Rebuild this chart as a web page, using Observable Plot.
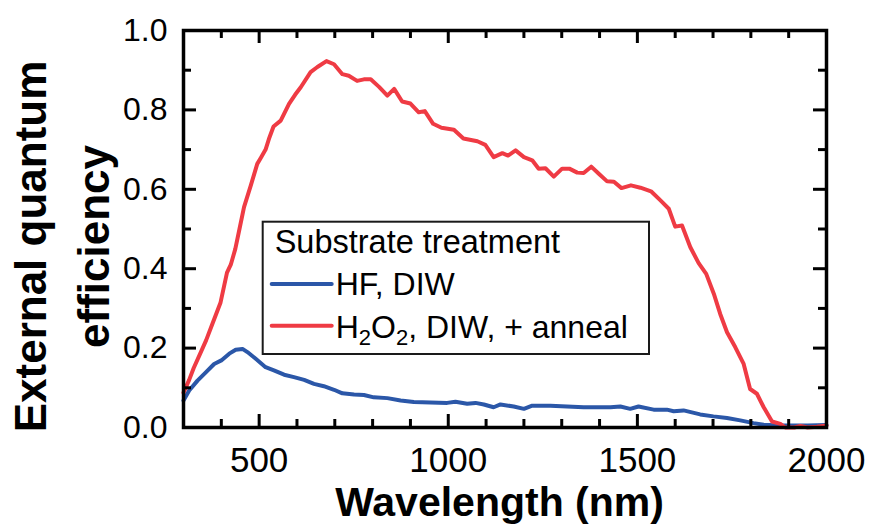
<!DOCTYPE html>
<html>
<head>
<meta charset="utf-8">
<script src="https://cdn.jsdelivr.net/npm/d3@7"></script>
<script src="https://cdn.jsdelivr.net/npm/@observablehq/plot@0.6"></script>
<style>
  body { margin: 0; background: #fff; }
  #chart { width: 870px; height: 525px; }
</style>
</head>
<body>
<div id="chart"></div>
<script>
// ---- Data ----
const wavelengthRed = [300, 315, 327, 345, 360, 376, 398, 415, 425, 437, 448, 460, 478, 495, 505, 517, 527, 538, 557, 579, 595, 610, 636, 654, 678, 698, 720, 737, 759, 777, 795, 817, 839, 857, 878, 900, 922, 938, 960, 982, 1015, 1040, 1077, 1098, 1120, 1143, 1158, 1178, 1200, 1222, 1239, 1257, 1279, 1301, 1320, 1341, 1358, 1378, 1398, 1420, 1438, 1458, 1483, 1508, 1536, 1561, 1583, 1600, 1618, 1640, 1662, 1682, 1702, 1719, 1737, 1759, 1781, 1798, 1816, 1834, 1856, 1878, 1891, 1915, 1931, 1950, 1975, 2000];
const eqeRed = [0.088, 0.12, 0.15, 0.188, 0.22, 0.26, 0.315, 0.39, 0.41, 0.45, 0.50, 0.555, 0.61, 0.664, 0.68, 0.70, 0.73, 0.758, 0.773, 0.815, 0.838, 0.857, 0.895, 0.908, 0.923, 0.915, 0.890, 0.886, 0.873, 0.877, 0.877, 0.858, 0.836, 0.853, 0.821, 0.816, 0.794, 0.797, 0.765, 0.755, 0.750, 0.728, 0.721, 0.712, 0.681, 0.691, 0.685, 0.698, 0.681, 0.673, 0.652, 0.653, 0.632, 0.652, 0.652, 0.642, 0.641, 0.657, 0.639, 0.620, 0.619, 0.603, 0.610, 0.604, 0.595, 0.572, 0.551, 0.506, 0.509, 0.454, 0.414, 0.387, 0.337, 0.286, 0.240, 0.202, 0.160, 0.097, 0.085, 0.051, 0.015, 0.009, 0.0, 0.0, 0.004, 0.0, 0.002, 0.005];

const wavelengthBlue = [300, 315, 337, 359, 381, 400, 421, 438, 456, 469, 491, 517, 539, 566, 592, 619, 645, 671, 698, 720, 751, 777, 803, 839, 874, 909, 953, 997, 1019, 1050, 1072, 1094, 1120, 1138, 1173, 1200, 1222, 1270, 1314, 1358, 1393, 1429, 1455, 1481, 1503, 1543, 1578, 1596, 1622, 1666, 1701, 1737, 1772, 1807, 1834, 1878, 1950, 2000];
const eqeBlue = [0.068, 0.093, 0.118, 0.139, 0.160, 0.169, 0.186, 0.196, 0.198, 0.190, 0.173, 0.152, 0.144, 0.133, 0.127, 0.120, 0.110, 0.104, 0.095, 0.086, 0.083, 0.082, 0.076, 0.074, 0.068, 0.064, 0.063, 0.062, 0.065, 0.060, 0.062, 0.058, 0.051, 0.058, 0.053, 0.047, 0.055, 0.055, 0.053, 0.051, 0.051, 0.051, 0.053, 0.047, 0.053, 0.045, 0.045, 0.041, 0.043, 0.033, 0.028, 0.024, 0.018, 0.011, 0.007, 0.005, 0.005, 0.006];

const seriesNames = ["HF, DIW", "H2O2, DIW, + anneal"];
const seriesColors = ["#2b57a8", "#ef3b44"];
const legendTitle = "Substrate treatment";

const xTickLabels = [500, 1000, 1500, 2000];
const xMinorTicks = [400, 600, 700, 800, 900, 1100, 1200, 1300, 1400, 1600, 1700, 1800, 1900];
const yTickLabels = [0, 0.2, 0.4, 0.6, 0.8, 1.0];
const yMinorTicks = [0.1, 0.3, 0.5, 0.7, 0.9];
const xTitle = "Wavelength (nm)";
const yTitleLines = ["External quantum", "efficiency"];

// ---- Tables built from the arrays ----
const blueRows = wavelengthBlue.map((w, i) => ({wl: w, v: eqeBlue[i]}));
const redRows = wavelengthRed.map((w, i) => ({wl: w, v: eqeRed[i]}));

const W = 870, H = 525;
const mL = 183, mR = 44, mT = 30, mB = 98;
const pw = W - mL - mR, ph = H - mT - mB;
const majorLen = 13, minorLen = 8;
const FONT = "'Liberation Sans', Arial, Helvetica, sans-serif";

const tickStyle = {stroke: "black", strokeWidth: 3, strokeLinecap: "butt"};

const svg = Plot.plot({
  width: W, height: H,
  marginLeft: mL, marginRight: mR, marginTop: mT, marginBottom: mB,
  x: {domain: [300, 2000], axis: null},
  y: {domain: [0, 1], axis: null},
  style: {fontFamily: FONT, color: "black", background: "white", overflow: "visible"},
  marks: [
    Plot.line(blueRows, {x: "wl", y: "v", stroke: seriesColors[0], strokeWidth: 4, strokeLinejoin: "round", strokeLinecap: "round"}),
    Plot.line(redRows, {x: "wl", y: "v", stroke: seriesColors[1], strokeWidth: 4, strokeLinejoin: "round", strokeLinecap: "round"}),
    // inward ticks, bottom & top
    Plot.tickX(xTickLabels, {x: d => d, insetTop: ph - majorLen, ...tickStyle}),
    Plot.tickX(xMinorTicks, {x: d => d, insetTop: ph - minorLen, ...tickStyle}),
    Plot.tickX(xTickLabels, {x: d => d, insetBottom: ph - majorLen, ...tickStyle}),
    Plot.tickX(xMinorTicks, {x: d => d, insetBottom: ph - minorLen, ...tickStyle}),
    // inward ticks, left & right
    Plot.tickY(yTickLabels, {y: d => d, insetRight: pw - majorLen, ...tickStyle}),
    Plot.tickY(yMinorTicks, {y: d => d, insetRight: pw - minorLen, ...tickStyle}),
    Plot.tickY(yTickLabels, {y: d => d, insetLeft: pw - majorLen, ...tickStyle}),
    Plot.tickY(yMinorTicks, {y: d => d, insetLeft: pw - minorLen, ...tickStyle}),
    Plot.frame({stroke: "black", strokeWidth: 3.5}),
    // tick labels
    Plot.text(xTickLabels, {x: d => d, frameAnchor: "bottom", lineAnchor: "middle", textAnchor: "middle", dy: 33, text: d => String(d), fontSize: 35, fill: "black"}),
    Plot.text(yTickLabels, {y: d => d, frameAnchor: "left", lineAnchor: "middle", textAnchor: "end", dx: -16, text: d => d.toFixed(1), fontSize: 32, fill: "black"}),
    // axis titles
    Plot.text([xTitle], {frameAnchor: "bottom", lineAnchor: "middle", textAnchor: "middle", dy: 75, dx: -5.5, text: d => d, fontSize: 41, fontWeight: "bold", fill: "black"}),
    Plot.text([yTitleLines.join("\n")], {frameAnchor: "left", lineAnchor: "middle", textAnchor: "middle", dx: -126, dy: 17.5, rotate: -90, text: d => d, fontSize: 44, fontWeight: "bold", lineHeight: 1.43, fill: "black"})
  ]
});

// ---- Legend (inside the plot area) ----
const g = d3.select(svg).append("g").attr("font-family", FONT).attr("fill", "black").attr("text-anchor", "start");
const lx = 262.7, ly = 221.7, lw = 386.3, lh = 132.3;
g.append("rect").attr("x", lx).attr("y", ly).attr("width", lw).attr("height", lh)
  .attr("fill", "white").attr("stroke", "#1a1a1a").attr("stroke-width", 2);
g.append("text").attr("x", lx + 12).attr("y", ly + 31.6).attr("font-size", 32.5).text(legendTitle);
const rowLineY = [62.3, 104];
const rowTextY = [73.3, 116.5];
seriesNames.forEach((name, i) => {
  g.append("line").attr("x1", lx + 9).attr("x2", lx + 69)
    .attr("y1", ly + rowLineY[i]).attr("y2", ly + rowLineY[i])
    .attr("stroke", seriesColors[i]).attr("stroke-width", 4).attr("stroke-linecap", "round");
  const t = g.append("text").attr("x", lx + 73).attr("y", ly + rowTextY[i]).attr("font-size", 32);
  // render digit "2" following H or O as subscript, each piece at an absolute baseline
  const parts = name.split(/(?<=[HO])(2)/).filter(p => p);
  const base = ly + rowTextY[i];
  parts.forEach(p => {
    if (p === "2") {
      t.append("tspan").attr("font-size", 22).attr("y", base + 7).text("2");
    } else {
      t.append("tspan").attr("y", base).text(p);
    }
  });
});

document.getElementById("chart").appendChild(svg);
</script>
</body>
</html>
